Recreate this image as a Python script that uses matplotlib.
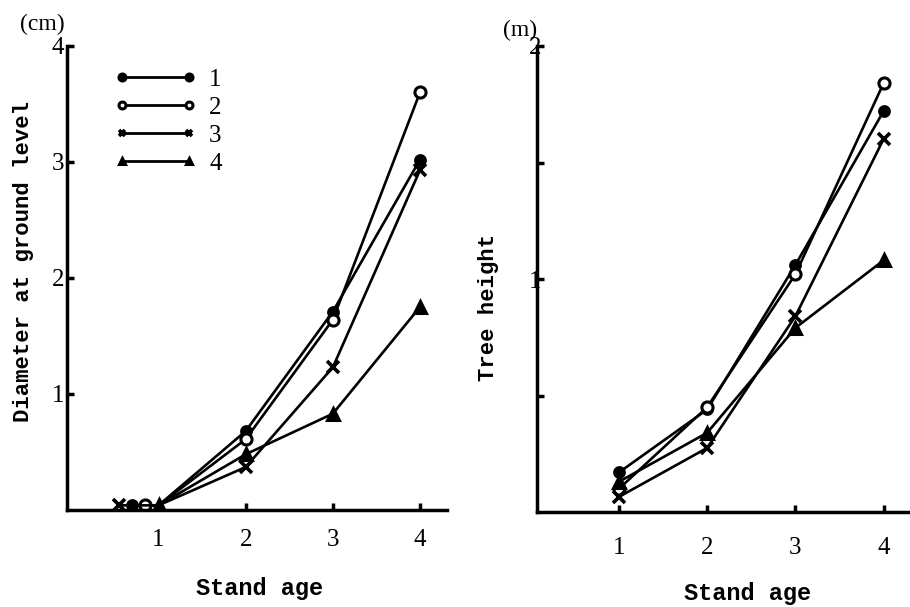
import matplotlib
matplotlib.use("Agg")
import matplotlib.pyplot as plt
from matplotlib.lines import Line2D

# ---- data ----
ages = [1, 2, 3, 4]
series_labels = ["1", "2", "3", "4"]
diameter_1 = [0.04, 0.68, 1.71, 3.02]
diameter_2 = [0.04, 0.61, 1.64, 3.60]
diameter_3 = [0.04, 0.37, 1.23, 2.93]
diameter_4 = [0.04, 0.48, 0.83, 1.75]
height_1 = [0.17, 0.44, 1.06, 1.72]
height_2 = [0.10, 0.45, 1.02, 1.84]
height_3 = [0.065, 0.275, 0.84, 1.60]
height_4 = [0.13, 0.34, 0.79, 1.08]
x_ticks = [1, 2, 3, 4]
left_yticks = [1, 2, 3, 4]
right_yticks = [0.5, 1.0, 1.5, 2.0]
right_yticklabels = ["", "1", "", "2"]

# ---- style ----
markers = ["o", "o", "x", "^"]
faces = ["black", "white", None, "black"]
msizes = [7, 8, 8, 8]
cluster_offset = [0.3, 0.15, 0.45, 0.0]   # visual spread of age-1 markers on left panel

serif = ["Liberation Mono", "DejaVu Sans Mono"]
tickfont = ["Liberation Serif", "DejaVu Serif"]

fig = plt.figure(figsize=(9.10, 6.07), dpi=100)
axL = fig.add_axes([67/910, 1-510/607, (447-67)/910, (510-46)/607])
axR = fig.add_axes([537/910, 1-512/607, (910-537)/910, (512-46)/607])

lw = 1.9

def style_marker(i):
    kw = dict(marker=markers[i], markersize=msizes[i], color="black")
    if markers[i] == "x":
        kw["markeredgewidth"] = 2.6
    else:
        kw["markerfacecolor"] = faces[i]
        kw["markeredgewidth"] = 2.2
    return kw

diams = [diameter_1, diameter_2, diameter_3, diameter_4]
heights = [height_1, height_2, height_3, height_4]

for i, d in enumerate(diams):
    xs = [ages[0] - cluster_offset[i]] + ages
    ys = [d[0]] + d
    axL.plot(xs, ys, lw=lw, markevery=[0, 2, 3, 4], **style_marker(i))

for i, h in enumerate(heights):
    axR.plot(ages, h, lw=lw, **style_marker(i))

for ax in (axL, axR):
    for s in ("top", "right"):
        ax.spines[s].set_visible(False)
    for s in ("left", "bottom"):
        ax.spines[s].set_linewidth(2.5)
    ax.set_xticks(x_ticks)
    ax.set_xticklabels([str(t) for t in x_ticks], fontsize=18, family=tickfont)
    ax.tick_params(axis="both", direction="in", length=5, width=2.5)
    ax.tick_params(axis="y", pad=2)

axL.tick_params(axis="x", pad=14)
axR.tick_params(axis="x", pad=18)

axL.set_xlim(-0.05, 4.31)
axL.set_ylim(0, 4)
axL.set_yticks(left_yticks)
axL.set_yticklabels([str(t) for t in left_yticks], fontsize=18, family=tickfont)

axR.set_xlim(0.07, 4.3)
axR.set_ylim(0, 2)
axR.set_yticks(right_yticks)
axR.set_yticklabels(right_yticklabels, fontsize=18, family=tickfont)
axR.tick_params(axis="y", pad=-3)

lab = dict(fontsize=16, family=serif, fontweight="bold")
xlab = dict(fontsize=17, family=serif, fontweight="bold")
axL.set_ylabel("Diameter at ground level", **lab)
axL.yaxis.set_label_coords(-0.088, 0.535)
axR.set_ylabel("Tree height", **lab)
axR.yaxis.set_label_coords(-0.103, 0.44)
axL.set_xlabel("Stand age", **xlab)
axL.xaxis.set_label_coords((260-67)/380, -(577-510)/464)
axR.set_xlabel("Stand age", **xlab)
axR.xaxis.set_label_coords((748-537)/373, -(582-512)/466)

fig.text(42/910, 1-24/607, "(cm)", fontsize=17, family=tickfont, ha="center", va="center")
fig.text(520/910, 1-30/607, "(m)", fontsize=17, family=tickfont, ha="center", va="center")

handles = []
for i in range(4):
    kw = style_marker(i)
    kw["markersize"] = 5
    handles.append(Line2D([0], [0], lw=2, **kw))
leg = axL.legend(handles, series_labels, loc="upper left",
                 bbox_to_anchor=(0.065, 1.0), frameon=False, numpoints=2,
                 handlelength=3.3, labelspacing=0.22, handletextpad=0.5,
                 prop={"family": tickfont, "size": 18})

fig.savefig("out.png", dpi=100)
